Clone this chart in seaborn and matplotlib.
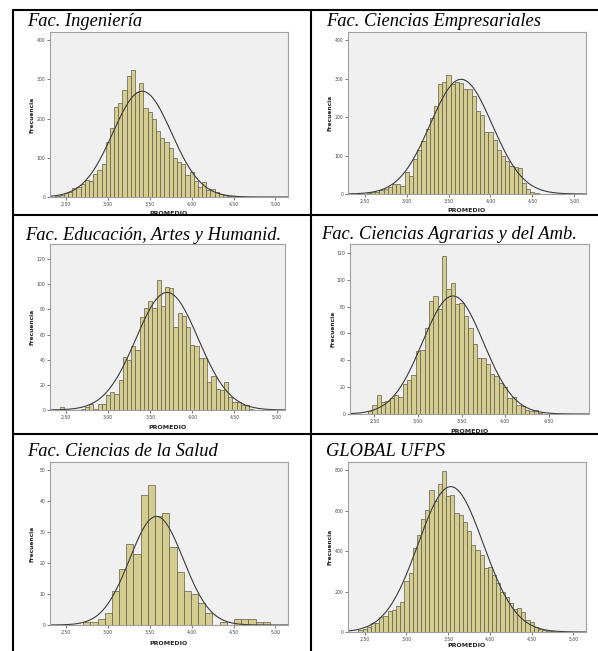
import numpy as np
import pandas as pd
import matplotlib
matplotlib.use("Agg")
import matplotlib.pyplot as plt
from matplotlib.lines import Line2D
import seaborn as sns

# ---------------- data (bin centres, counts) ----------------
titles = ["Fac. Ingeniería", "Fac. Ciencias Empresariales",
          "Fac. Educación, Artes y Humanid.", "Fac. Ciencias Agrarias y del Amb.",
          "Fac. Ciencias de la Salud", "GLOBAL UFPS"]

ing_start, ing_width = 2.40, 0.05
ing_counts = [3, 6, 10, 12, 22, 25, 33, 43, 42, 58, 68, 85, 140, 175, 230, 240, 272, 308,
              323, 268, 290, 228, 218, 200, 168, 150, 140, 125, 100, 90, 85, 55, 65, 40,
              25, 38, 18, 20, 12, 8, 5, 3, 2, 1, 1, 0, 0, 0, 0, 0, 1]

emp_start, emp_width = 2.45, 0.05
emp_counts = [1, 1, 2, 5, 6, 10, 12, 18, 25, 27, 20, 57, 48, 92, 115, 138, 168, 198, 228,
              285, 290, 308, 285, 292, 288, 272, 272, 255, 215, 205, 160, 160, 140, 115,
              100, 85, 72, 70, 68, 28, 12, 6, 3, 1]

edu_start, edu_width = 2.45, 0.05
edu_counts = [2, 0, 0, 0, 0, 1, 2, 5, 1, 5, 5, 12, 14, 13, 24, 42, 40, 51, 48, 74, 81, 87,
              81, 103, 83, 98, 97, 66, 77, 75, 66, 52, 51, 41, 41, 22, 27, 17, 16, 22, 10,
              6, 6, 4, 4, 1]

agr_start, agr_width = 2.45, 0.05
agr_counts = [2, 7, 14, 9, 10, 12, 14, 13, 22, 25, 29, 47, 48, 64, 84, 88, 78, 118, 93, 98,
              82, 83, 73, 64, 52, 42, 42, 37, 30, 28, 23, 20, 12, 13, 7, 6, 3, 2, 3, 1]

sal_start, sal_width = 2.749, 0.0857
sal_counts = [1, 1, 2, 4, 11, 18, 26, 23, 42, 45, 35, 36, 25, 17, 11, 10, 7, 4, 0, 1, 0,
              2, 2, 2, 1, 1]

glo_start, glo_width = 2.45, 0.05
glo_counts = [10, 15, 25, 45, 45, 75, 80, 105, 110, 130, 150, 255, 290, 415, 480, 560, 605,
              705, 650, 735, 795, 675, 680, 590, 580, 545, 500, 430, 405, 380, 315, 320,
              280, 245, 200, 175, 145, 115, 120, 100, 60, 50, 25, 15, 10, 6, 4, 2, 1, 1]

# normal curve as displayed (mean, std. dev., peak height) per panel
curve_mean = [3.41, 3.65, 3.70, 3.40, 3.58, 3.53]
curve_sd = [0.35, 0.37, 0.37, 0.35, 0.32, 0.39]
curve_peak = [270, 298, 93.5, 88, 35, 720]

x_ticks = [2.50, 3.00, 3.50, 4.00, 4.50, 5.00]
x_ticks_agr = [2.50, 3.00, 3.50, 4.00, 4.50]

panels = [
    (ing_start, ing_width, ing_counts, (2.31, 5.15), (0, 421), list(range(0, 401, 100)), x_ticks),
    (emp_start, emp_width, emp_counts, (2.30, 5.14), (0, 421), list(range(0, 401, 100)), x_ticks),
    (edu_start, edu_width, edu_counts, (2.31, 5.10), (0, 132), list(range(0, 121, 20)), x_ticks),
    (agr_start, agr_width, agr_counts, (2.22, 4.96), (0, 126.7), list(range(0, 121, 20)), x_ticks_agr),
    (sal_start, sal_width, sal_counts, (2.31, 5.15), (0, 52.5), list(range(0, 51, 10)), x_ticks),
    (glo_start, glo_width, glo_counts, (2.30, 5.15), (0, 842), list(range(0, 801, 200)), x_ticks),
]

# ---------------- layout (pixels) ----------------
W, H = 598, 651
axes_px = [(50, 32, 288, 197), (348, 32, 586, 194),
           (50, 244, 285, 410), (350, 244, 589, 414),
           (50, 462, 288, 625), (348, 462, 586, 632)]
title_px = [(27, 26.5), (326, 26.5), (25, 240), (321, 239), (27, 456.5), (326, 456.5)]
title_size = 13.3
xlabel_off = [14, 14, 15, 15, 16, 11]

sns.set_style("white")
plt.rcParams['font.family'] = ['DejaVu Sans']

fig = plt.figure(figsize=(W / 100, H / 100), dpi=100)
fig.patch.set_facecolor("white")

bar_color = "#d5cd8f"
edge_color = "#5e5d4c"

for i, (start, bw, counts, xl, yl, yt, xt) in enumerate(panels):
    x0, y0, x1, y1 = axes_px[i]
    ax = fig.add_axes([x0 / W, 1 - y1 / H, (x1 - x0) / W, (y1 - y0) / H])
    counts = np.asarray(counts, dtype=float)
    centers = start + bw * np.arange(len(counts))
    lo = float(centers[0] - bw / 2)
    hi = float(centers[-1] + bw / 2)
    df = pd.DataFrame({"PROMEDIO": centers, "n": counts})
    sns.histplot(data=df, x="PROMEDIO", weights="n", bins=int(len(counts)),
                 binrange=(lo, hi), stat="count",
                 color=bar_color, edgecolor=edge_color, linewidth=0.5, alpha=1, ax=ax)
    # normal curve
    mu, sd, pk = curve_mean[i], curve_sd[i], curve_peak[i]
    xs = np.linspace(xl[0], xl[1], 300)
    ys = pk * np.exp(-0.5 * ((xs - mu) / sd) ** 2)
    sns.lineplot(x=xs, y=ys, ax=ax, color="#3c3c3c", linewidth=0.8)

    ax.set_facecolor("#f0f0f0")
    ax.set_xlim(*xl)
    ax.set_ylim(*yl)
    ax.set_xticks(xt)
    ax.set_xticklabels([f"{v:.2f}".replace(".", ",") for v in xt])
    ax.set_yticks(yt)
    ax.set_yticklabels([str(v) for v in yt])
    ax.tick_params(axis="both", length=2, width=0.5, pad=1.5, labelsize=3.3,
                   colors="#444444", direction="out", left=True, bottom=True)
    for s in ax.spines.values():
        s.set_color("#a0a0a0")
        s.set_linewidth(0.8)
    ax.set_xlabel("PROMEDIO", fontsize=4.5, fontweight="bold", color="#222222")
    ax.set_ylabel("Frecuencia", fontsize=4.2, fontweight="bold", color="#222222")
    hpx = y1 - y0
    wpx = x1 - x0
    ax.xaxis.set_label_coords(0.5, -(xlabel_off[i] / hpx))
    ax.yaxis.set_label_coords(-(15.0 / wpx), 0.5)

    tx, ty = title_px[i]
    fig.text(tx / W, 1 - ty / H, titles[i], fontsize=title_size, fontstyle="italic",
             family=["Liberation Serif", "DejaVu Serif"], ha="left", va="baseline",
             color="black")

# ---------------- table lines ----------------
lw = 1.5
def hline(y, xa, xb):
    fig.add_artist(Line2D([xa / W, xb / W], [1 - y / H, 1 - y / H], color="black",
                          linewidth=lw, transform=fig.transFigure, zorder=10))
def vline(x, ya, yb):
    fig.add_artist(Line2D([x / W, x / W], [1 - ya / H, 1 - yb / H], color="black",
                          linewidth=lw, transform=fig.transFigure, zorder=10))

hline(10, 12.7, W)
hline(215, 12.7, W)
hline(434, 12.7, W)
vline(12.7, 10, H)
vline(311, 10, H)

fig.savefig("out.png", dpi=100)
